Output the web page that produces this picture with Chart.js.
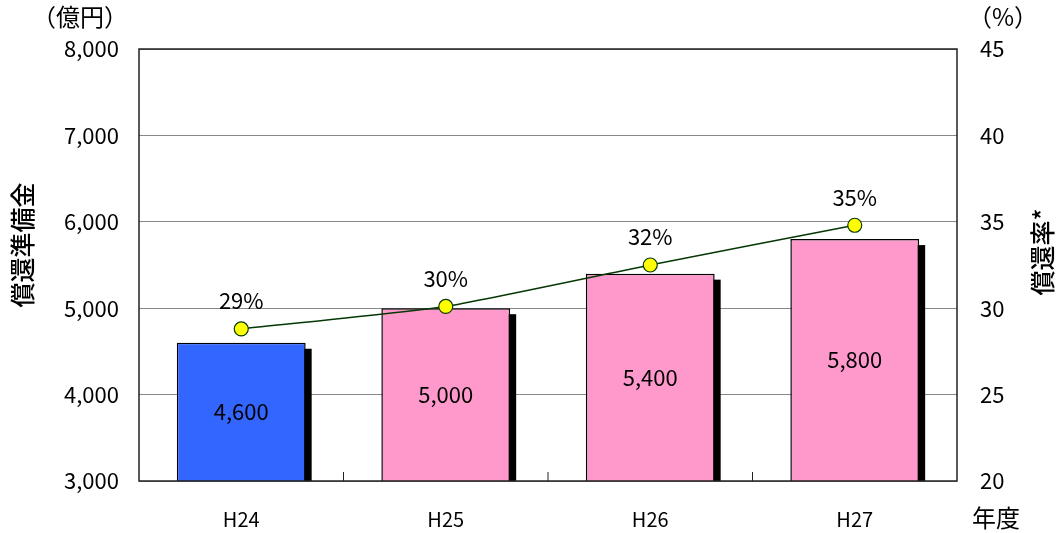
<!DOCTYPE html>
<html>
<head>
<meta charset="utf-8">
<script src="https://cdn.jsdelivr.net/npm/chart.js@4.4.1/dist/chart.umd.min.js"></script>
<style>
  html, body { margin: 0; padding: 0; background: #fff; }
  #wrap { position: relative; width: 1059px; height: 533px; }
</style>
</head>
<body>
<div id="wrap"><canvas id="chart"></canvas></div>
<script>
// 年度・償還準備金（億円）・償還率（%）
const years      = ['H24', 'H25', 'H26', 'H27'];
const reserve    = [4600, 5000, 5400, 5800];
const ratio      = [28.8, 30.1, 32.5, 34.8];
const ratioLabel = ['29%', '30%', '32%', '35%'];
const barColors  = ['#3366ff', '#ff99cc', '#ff99cc', '#ff99cc'];

const FONT = "'Noto Sans CJK JP', 'Noto Sans', sans-serif";

// 影・枠・目盛・ラベル描画
const decor = {
  id: 'decor',
  beforeDatasetsDraw(chart) {
    const c = chart.ctx;
    const a = chart.chartArea;
    const base = chart.scales.y.getPixelForValue(chart.scales.y.min);
    c.save();
    c.beginPath();
    c.rect(a.left, a.top, a.right - a.left, a.bottom - a.top);
    c.clip();
    c.fillStyle = '#000';
    chart.getDatasetMeta(0).data.forEach(b => {
      c.fillRect(b.x - b.width / 2 + 6, b.y + 6, b.width, base - b.y);
    });
    c.restore();
  },
  afterDatasetsDraw(chart) {
    const c = chart.ctx;
    const a = chart.chartArea;
    const x = chart.scales.x;
    const base = chart.scales.y.getPixelForValue(chart.scales.y.min);
    c.save();
    // 枠
    c.strokeStyle = '#222';
    c.lineWidth = 1.5;
    c.strokeRect(a.left, a.top, a.right - a.left, a.bottom - a.top);
    // 内向き目盛
    c.lineWidth = 1;
    for (let i = 1; i < years.length; i++) {
      const px = (x.getPixelForValue(i - 1) + x.getPixelForValue(i)) / 2;
      c.beginPath();
      c.moveTo(px, a.bottom);
      c.lineTo(px, a.bottom - 9);
      c.stroke();
    }
    // 値ラベル
    c.fillStyle = '#000';
    c.textAlign = 'center';
    c.textBaseline = 'middle';
    c.font = '22px ' + FONT;
    chart.getDatasetMeta(0).data.forEach((b, i) => {
      c.fillText(reserve[i].toLocaleString('en-US'), b.x, (b.y + base) / 2);
    });
    chart.getDatasetMeta(1).data.forEach((p, i) => {
      c.fillText(ratioLabel[i], p.x, p.y - 28);
    });
    c.restore();
  },
  afterDraw(chart) {
    const c = chart.ctx;
    c.save();
    c.fillStyle = '#000';
    c.textAlign = 'center';
    c.textBaseline = 'middle';
    c.font = '24px ' + FONT;
    c.fillText('（億円）', 80, 17);
    c.fillText('（%）', 1003, 17);
    c.fillText('年度', 996, 518);
    c.restore();
    [[22, 245, '償還準備金'], [1042, 252, '償還率*']].forEach(([tx, ty, t]) => {
      c.save();
      c.fillStyle = '#000';
      c.textAlign = 'center';
      c.textBaseline = 'middle';
      c.font = '500 25px ' + FONT;
      c.translate(tx, ty);
      c.rotate(-Math.PI / 2);
      c.fillText(t, 0, 0);
      c.restore();
    });
  }
};

new Chart(document.getElementById('chart'), {
  data: {
    labels: years,
    datasets: [
      {
        type: 'bar',
        data: reserve,
        yAxisID: 'y',
        backgroundColor: barColors,
        borderColor: '#000',
        borderWidth: 1.5,
        barPercentage: 0.63,
        categoryPercentage: 1,
        order: 2,
      },
      {
        type: 'line',
        data: ratio,
        yAxisID: 'y1',
        borderColor: '#063806',
        borderWidth: 1.5,
        tension: 0.15,
        pointRadius: 7,
        pointBackgroundColor: '#ffff00',
        pointBorderColor: '#063806',
        pointBorderWidth: 1.2,
        order: 1,
      },
    ],
  },
  options: {
    responsive: true,
    maintainAspectRatio: false,
    animation: false,
    layout: { padding: { top: 49, left: 0, right: 0, bottom: 0 } },
    plugins: { legend: { display: false }, tooltip: { enabled: false } },
    scales: {
      x: {
        grid: { display: false, drawTicks: false },
        border: { display: false },
        ticks: { color: '#000', font: { family: FONT, size: 20 }, padding: 26 },
        afterFit: s => { s.height = 52; },
      },
      y: {
        position: 'left',
        min: 3000, max: 8000,
        grid: { color: '#888', drawTicks: false },
        border: { display: false },
        ticks: {
          stepSize: 1000,
          color: '#000',
          padding: 20,
          font: { family: FONT, size: 22 },
          callback: v => v.toLocaleString('en-US'),
        },
        afterFit: s => { s.width = 139; },
      },
      y1: {
        position: 'right',
        min: 20, max: 45,
        grid: { drawOnChartArea: false, drawTicks: false },
        border: { display: false },
        ticks: {
          stepSize: 5,
          color: '#000',
          padding: 23,
          font: { family: FONT, size: 22 },
        },
        afterFit: s => { s.width = 102; },
      },
    },
  },
  plugins: [decor],
});
</script>
</body>
</html>
